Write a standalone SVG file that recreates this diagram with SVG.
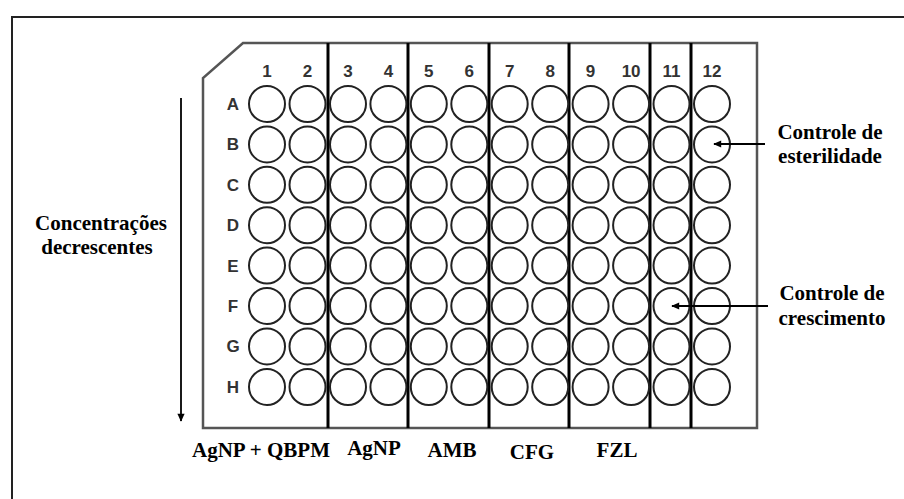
<svg xmlns="http://www.w3.org/2000/svg" xmlns:xlink="http://www.w3.org/1999/xlink" width="904" height="499" viewBox="0 0 904 499">
<style>
.frame{fill:none;stroke:#222;stroke-width:2}
.plate{fill:#fff;stroke:#555;stroke-width:2.5;stroke-linejoin:miter}
.div{stroke:#000;stroke-width:3}
.w{fill:#fff;stroke:#222;stroke-width:2}
.num{font-family:"Liberation Sans",Arial,sans-serif;font-size:17px;font-weight:bold;fill:#333;text-anchor:middle}
.lab{font-family:"Liberation Serif","Times New Roman",serif;font-size:21px;font-weight:bold;fill:#000;text-anchor:middle}
.arr{stroke:#000;stroke-width:1.8;fill:none}
</style>
<defs>
<marker id="ah" viewBox="0 0 10 10" refX="9" refY="5" markerWidth="9" markerHeight="8" orient="auto" markerUnits="userSpaceOnUse">
<path d="M0,0.5 L10,5 L0,9.5 Z" fill="#000"/>
</marker>
<g id="row">
<circle class="w" cx="267" cy="0" r="18"/>
<circle class="w" cx="307.5" cy="0" r="18"/>
<circle class="w" cx="348" cy="0" r="18"/>
<circle class="w" cx="388.4" cy="0" r="18"/>
<circle class="w" cx="428.8" cy="0" r="18"/>
<circle class="w" cx="469.3" cy="0" r="18"/>
<circle class="w" cx="509.7" cy="0" r="18"/>
<circle class="w" cx="550.2" cy="0" r="18"/>
<circle class="w" cx="590.6" cy="0" r="18"/>
<circle class="w" cx="631.1" cy="0" r="18"/>
<circle class="w" cx="671.5" cy="0" r="18"/>
<circle class="w" cx="712" cy="0" r="18"/>
</g>
</defs>
<rect width="904" height="499" fill="#fff"/>
<g id="frame">
<path class="frame" d="M12,499 L12,17 L904,17"/>
</g>
<g id="plate">
<path class="plate" d="M243,43 L757,43 L757,428 L203,428 L203,78 Z"/>
<line class="div" x1="328" y1="43" x2="328" y2="428"/>
<line class="div" x1="408" y1="43" x2="408" y2="428"/>
<line class="div" x1="489" y1="43" x2="489" y2="428"/>
<line class="div" x1="569" y1="43" x2="569" y2="428"/>
<line class="div" x1="650" y1="43" x2="650" y2="428"/>
<line class="div" x1="691" y1="43" x2="691" y2="428"/>
</g>
<g id="column-numbers" class="num">
<text x="267" y="77">1</text>
<text x="307.5" y="77">2</text>
<text x="348" y="77">3</text>
<text x="388.4" y="77">4</text>
<text x="428.8" y="77">5</text>
<text x="469.3" y="77">6</text>
<text x="509.7" y="77">7</text>
<text x="550.2" y="77">8</text>
<text x="590.6" y="77">9</text>
<text x="631.1" y="77">10</text>
<text x="671.5" y="77">11</text>
<text x="712" y="77">12</text>
</g>
<g id="row-letters" class="num">
<text x="233" y="110">A</text>
<text x="233" y="150.4">B</text>
<text x="233" y="190.8">C</text>
<text x="233" y="231.2">D</text>
<text x="233" y="271.6">E</text>
<text x="233" y="312">F</text>
<text x="233" y="352.4">G</text>
<text x="233" y="393">H</text>
</g>
<g id="wells">
<use id="row-A" xlink:href="#row" href="#row" y="104"/>
<use id="row-B" xlink:href="#row" href="#row" y="144.4"/>
<use id="row-C" xlink:href="#row" href="#row" y="184.8"/>
<use id="row-D" xlink:href="#row" href="#row" y="225.2"/>
<use id="row-E" xlink:href="#row" href="#row" y="265.6"/>
<use id="row-F" xlink:href="#row" href="#row" y="306"/>
<use id="row-G" xlink:href="#row" href="#row" y="346.4"/>
<use id="row-H" xlink:href="#row" href="#row" y="387"/>
</g>
<g id="label-concentracoes" class="lab">
<text x="101" y="230">Concentrações</text>
<text x="97" y="254">decrescentes</text>
</g>
<g id="label-esterilidade" class="lab">
<text x="830" y="139">Controle de</text>
<text x="830" y="163">esterilidade</text>
</g>
<g id="label-crescimento" class="lab">
<text x="832" y="300">Controle de</text>
<text x="832" y="325">crescimento</text>
</g>
<g id="bottom-labels" class="lab">
<text x="261" y="457">AgNP + QBPM</text>
<text x="374" y="455">AgNP</text>
<text x="452" y="457">AMB</text>
<text x="532" y="459">CFG</text>
<text x="617" y="457">FZL</text>
</g>
<g id="connectors">
<line class="arr" x1="181" y1="98" x2="181" y2="421" marker-end="url(#ah)"/>
<line class="arr" x1="765" y1="144" x2="714" y2="144" marker-end="url(#ah)"/>
<line class="arr" x1="768" y1="306" x2="672" y2="306" marker-end="url(#ah)"/>
</g>
</svg>
